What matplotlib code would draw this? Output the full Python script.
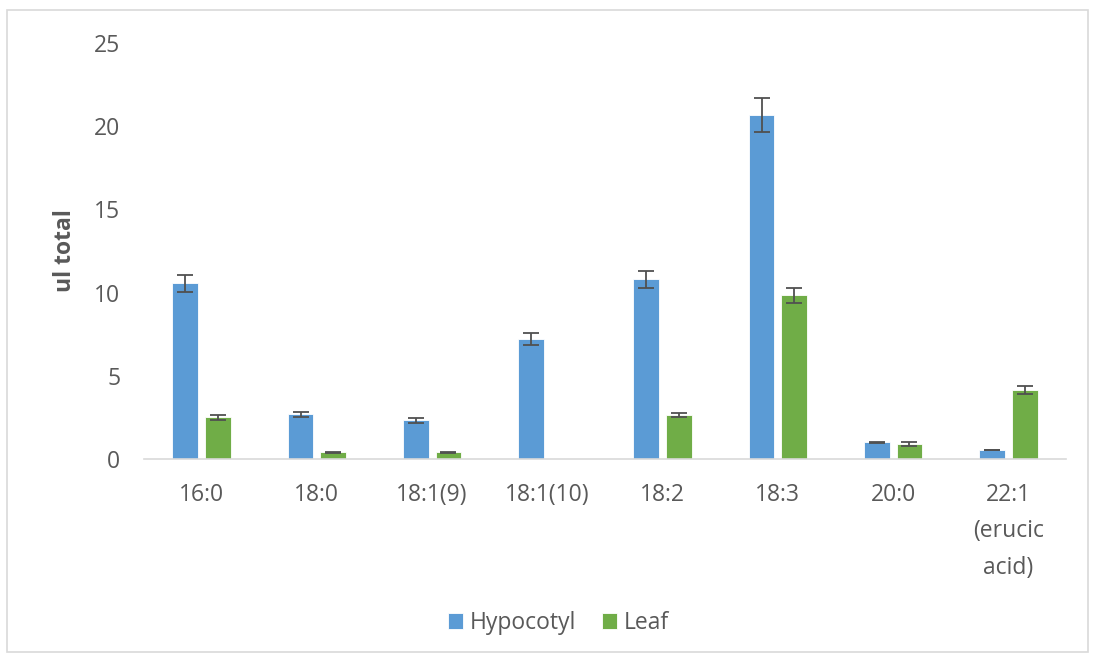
import matplotlib.pyplot as plt
import numpy as np
from matplotlib.patches import Rectangle

categories = ['16:0', '18:0', '18:1(9)', '18:1(10)', '18:2', '18:3', '20:0', '22:1\n(erucic\nacid)']
hypocotyl = [10.55, 2.68, 2.34, 7.22, 10.79, 20.7, 1.01, 0.55]
hypocotyl_err = [0.5, 0.15, 0.15, 0.35, 0.53, 1.02, 0.03, 0.01]
leaf = [2.5, 0.42, 0.40, 0.0, 2.66, 9.83, 0.91, 4.16]
leaf_err = [0.14, 0.03, 0.02, 0.0, 0.12, 0.47, 0.11, 0.23]

blue = '#5B9BD5'
green = '#70AD47'
text_grey = '#595959'

plt.rcParams['font.family'] = ['Open Sans', 'DejaVu Sans']

fig = plt.figure(figsize=(10.95, 6.6), dpi=100)
ax = fig.add_axes([144 / 1095, 0.3045, 922 / 1095, 0.6303])

x = np.arange(len(categories))
w = 0.225
off = 0.142
err_kw = dict(ecolor='#505050', elinewidth=1.3, capsize=5.6, capthick=1.3)
ax.bar(x - off, hypocotyl, w, color=blue, edgecolor='white', linewidth=0.6,
       yerr=hypocotyl_err, error_kw=err_kw, label='Hypocotyl')
leaf_err_plot = [e if v > 0 else np.nan for v, e in zip(leaf, leaf_err)]
ax.bar(x + off, leaf, w, color=green, edgecolor='white', linewidth=0.6,
       yerr=leaf_err_plot, error_kw=err_kw, label='Leaf')

ax.set_xlim(-0.5, len(categories) - 0.5)
ax.set_ylim(0, 25)
ax.set_yticks([0, 5, 10, 15, 20, 25])
ax.set_xticks(x)
ax.set_xticklabels(categories, linespacing=1.7)
ax.tick_params(axis='both', length=0, labelsize=16.5, labelcolor=text_grey)
ax.tick_params(axis='y', pad=17)
ax.tick_params(axis='x', pad=17)
for s in ['top', 'right', 'left']:
    ax.spines[s].set_visible(False)
ax.spines['bottom'].set_color('#d9d9d9')
ax.spines['bottom'].set_linewidth(1.2)

ax.set_ylabel('ul total', fontsize=16.5, fontweight='bold', color=text_grey, labelpad=12)

fig.legend(loc='center', bbox_to_anchor=(0.510, 0.056), ncol=2, frameon=False,
           fontsize=16.5, labelcolor=text_grey, handlelength=0.65, handleheight=0.65,
           handletextpad=0.3, columnspacing=1.15)

fig.patches.append(Rectangle((0.0065, 0.012), 0.987, 0.973, transform=fig.transFigure,
                             fill=False, edgecolor='#d9d9d9', linewidth=1.2))

fig.savefig('out.png', dpi=100)
